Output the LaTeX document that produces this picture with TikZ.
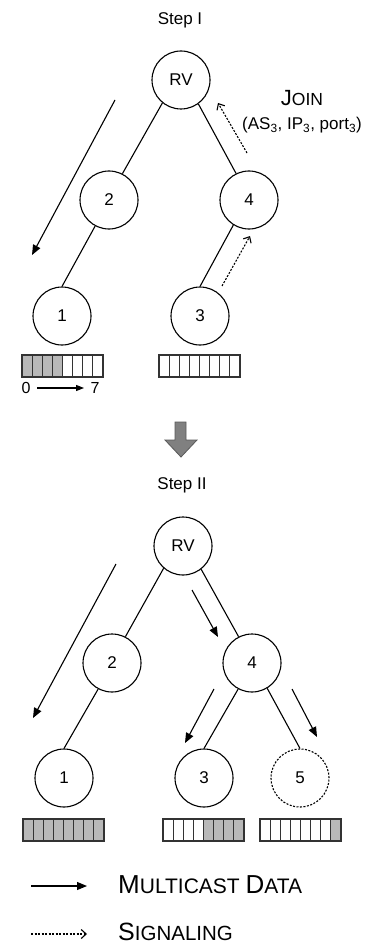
\documentclass[tikz,border=0pt]{standalone}
\usepackage{fontspec}
\setmainfont{Liberation Sans}
\usetikzlibrary{arrows.meta}
\newcommand\cellgrid[2]{%
  \draw[barline] (#1,#2) rectangle ++(81,22);
  \foreach \i in {1,...,7} \draw[barline] (#1+\i*10.125,#2) -- ++(0,22);
}
\newcommand\cellfill[3]{%
  \foreach \i in {#3} \fill[cellgray] (#1+\i*10.125-10.125,#2) rectangle ++(10.125,22);
}
\begin{document}
\begin{tikzpicture}[x=1pt,y=-1pt,
  tnode/.style={circle,draw,line width=1.1pt,minimum size=58pt,inner sep=0pt,font=\fontsize{17}{20}\selectfont},
  edge/.style={line width=1.1pt},
  data/.style={line width=1.1pt,-{Triangle[length=10pt,width=8pt]}},
  sig/.style={line width=1.1pt,dash pattern=on 2pt off 1.5pt,-{Straight Barb[length=5pt,width=9pt]}},
  lbl/.style={font=\fontsize{17}{20}\selectfont,anchor=base,inner sep=0pt},
  cellgray/.style={fill=black!28},
  barline/.style={draw=black!80,line width=1.2pt}
]
\useasboundingbox (0,0) rectangle (374,944);

% ---------- Step I ----------
\node[lbl] (stepI) at (180,25) {Step I};
\node[tnode] (rvA) at (181,80) {RV};
\node[tnode] (twoA) at (109,200) {2};
\node[tnode] (fourA) at (249,200) {4};
\node[tnode] (oneA) at (62,316) {1};
\node[tnode] (threeA) at (200,316) {3};

\draw[edge] (rvA.231) -- (twoA.63);
\draw[edge] (rvA.306) -- (fourA.116);
\draw[edge] (twoA.242) -- (oneA.north);
\draw[edge] (fourA.238) -- (threeA.north);

\coordinate (dA1) at (115,100);
\coordinate (dA2) at (32,255);
\draw[data] (dA1) -- (dA2);
\coordinate (sA1) at (247,153);
\coordinate (sA2) at (218,103);
\draw[sig] (sA1) -- (sA2);
\coordinate (sB1) at (222,286);
\coordinate (sB2) at (250,236);
\draw[sig] (sB1) -- (sB2);

\node[lbl] (join) at (302,106) {{\fontsize{22}{24}\selectfont J}{\fontsize{17.5}{20}\selectfont OIN}};
\node[lbl] (joinargs) at (302,130) {(AS\textsubscript{3}, IP\textsubscript{3}, port\textsubscript{3})};

\cellfill{22}{355}{1,2,3,4}
\cellgrid{22}{355}
\cellgrid{159}{355}

\node[lbl,font=\fontsize{16}{18}\selectfont] (zero) at (26,393) {0};
\node[lbl,font=\fontsize{16}{18}\selectfont] (seven) at (95,393) {7};
\coordinate (r1) at (37,388);
\coordinate (r2) at (84,388);
\draw[line width=1.1pt,-{Triangle[length=8pt,width=6pt]}] (r1) -- (r2);

% ---------- transition arrow ----------
\draw[fill=black!50,draw=black!65,line width=0.8pt]
  (175,422) -- (186,422) -- (186,440) -- (197,440) -- (181,457) -- (165,440) -- (175,440) -- cycle;

% ---------- Step II ----------
\node[lbl] (stepII) at (182,489) {Step II};
\node[tnode] (rvB) at (183,546) {RV};
\node[tnode] (twoB) at (112,663) {2};
\node[tnode] (fourB) at (252,663) {4};
\node[tnode] (oneB) at (64,778) {1};
\node[tnode] (threeB) at (204,778) {3};
\node[tnode,dash pattern=on 2pt off 1.5pt] (fiveB) at (300,778) {5};

\draw[edge] (rvB.229) -- (twoB.63);
\draw[edge] (rvB.308) -- (fourB.117);
\draw[edge] (twoB.242) -- (oneB.north);
\draw[edge] (fourB.242) -- (threeB.north);
\draw[edge] (fourB.301) -- (fiveB.north);

\coordinate (dB1) at (116,564);
\coordinate (dB2) at (33,718);
\draw[data] (dB1) -- (dB2);
\coordinate (dC1) at (192,590);
\coordinate (dC2) at (218,637);
\draw[data] (dC1) -- (dC2);
\coordinate (dD1) at (214,689);
\coordinate (dD2) at (185,743);
\draw[data] (dD1) -- (dD2);
\coordinate (dE1) at (292,689);
\coordinate (dE2) at (317,737);
\draw[data] (dE1) -- (dE2);

\cellfill{23}{819}{1,2,3,4,5,6,7,8}
\cellgrid{23}{819}
\cellfill{163}{819}{5,6,7,8}
\cellgrid{163}{819}
\cellfill{260}{819}{8}
\cellgrid{260}{819}

% ---------- legend ----------
\coordinate (lg1) at (31,886);
\coordinate (lg2) at (87,886);
\draw[data] (lg1) -- (lg2);
\node[anchor=base west,inner sep=0pt] (lgdata) at (118,893)
  {{\fontsize{26}{28}\selectfont M}{\fontsize{21}{24}\selectfont ULTICAST }{\fontsize{26}{28}\selectfont D}{\fontsize{21}{24}\selectfont ATA}};
\coordinate (lg3) at (31,934);
\coordinate (lg4) at (87,934);
\draw[sig] (lg3) -- (lg4);
\node[anchor=base west,inner sep=0pt] (lgsig) at (118,940)
  {{\fontsize{25}{28}\selectfont S}{\fontsize{20.5}{24}\selectfont IGNALING}};
\end{tikzpicture}
\end{document}
